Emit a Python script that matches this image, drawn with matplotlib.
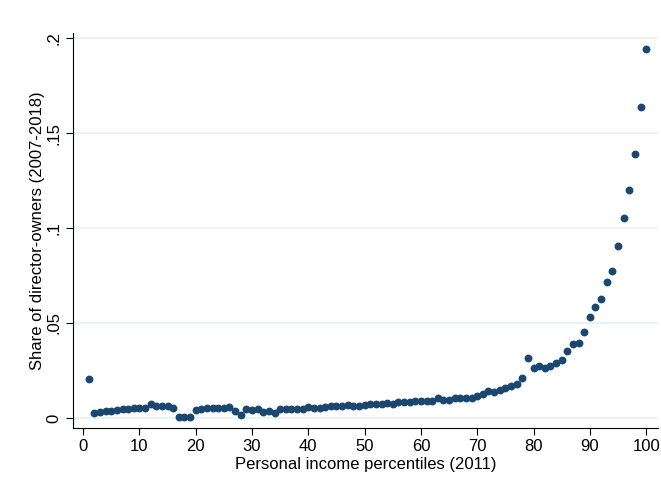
import numpy as np
import matplotlib.pyplot as plt

plt.rcParams['font.family'] = ['Liberation Sans', 'DejaVu Sans']

# share of director-owners by income percentile
percentile = np.arange(1, 101)
share = [
    0.0204, 0.0028, 0.0033, 0.0037, 0.0035, 0.0044, 0.0046, 0.0049, 0.0051, 0.0051,
    0.0054, 0.0074, 0.0063, 0.0063, 0.0063, 0.0052, 0.0007, 0.0005, 0.0005, 0.0040,
    0.0047, 0.0050, 0.0052, 0.0054, 0.0050, 0.0060, 0.0037, 0.0018, 0.0046, 0.0042,
    0.0046, 0.0033, 0.0035, 0.0025, 0.0046, 0.0047, 0.0047, 0.0046, 0.0046, 0.0060,
    0.0051, 0.0051, 0.0058, 0.0063, 0.0065, 0.0065, 0.0068, 0.0061, 0.0063, 0.0068,
    0.0072, 0.0075, 0.0074, 0.0079, 0.0075, 0.0085, 0.0084, 0.0084, 0.0087, 0.0089,
    0.0089, 0.0091, 0.0107, 0.0095, 0.0095, 0.0107, 0.0104, 0.0104, 0.0104, 0.0118,
    0.0126, 0.0142, 0.0137, 0.0145, 0.0159, 0.0169, 0.0180, 0.0212, 0.0318, 0.0261,
    0.0275, 0.0265, 0.0275, 0.0291, 0.0305, 0.0353, 0.0388, 0.0396, 0.0451, 0.0530,
    0.0583, 0.0625, 0.0718, 0.0772, 0.0904, 0.1054, 0.1202, 0.1391, 0.1635, 0.1942,
]

yticks = [0, 0.05, 0.1, 0.15, 0.2]
ytick_labels = ['0', '.05', '.1', '.15', '.2']
xticks = np.arange(0, 101, 10)

fig = plt.figure(figsize=(6.61, 4.93), dpi=100)
ax = fig.add_axes([0.1104, 0.1318, 0.885, 0.801])

ax.scatter(percentile, share, s=32, color='#1a476f', zorder=3, linewidths=0)

ax.set_xlim(-1.8, 102.1)
ax.set_ylim(-0.0053, 0.2026)
ax.set_xticks(xticks)
ax.set_yticks(yticks)
ax.set_yticklabels(ytick_labels, rotation=90, va='center')
ax.tick_params(labelsize=12, length=5, width=0.8, color='black', pad=3)

ax.grid(axis='y', color='#eaf2f3', linewidth=1.4, zorder=0)
ax.grid(axis='x', visible=False)
ax.set_axisbelow(True)
for side in ['top', 'right']:
    ax.spines[side].set_visible(False)
for side in ['left', 'bottom']:
    ax.spines[side].set_linewidth(0.8)

ax.set_xlabel('Personal income percentiles (2011)', fontsize=12, labelpad=2)
ax.set_ylabel('Share of director-owners (2007-2018)', fontsize=12, labelpad=1)

fig.savefig('out.png', dpi=100, facecolor='white')
